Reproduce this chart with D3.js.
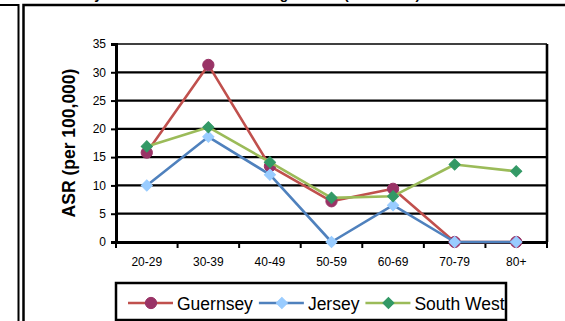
<!DOCTYPE html>
<html>
<head>
<meta charset="utf-8">
<script src="https://cdn.jsdelivr.net/npm/d3@7"></script>
<style>
  body { margin: 0; background: #fff; }
  svg { display: block; font-family: Arial, "Liberation Sans", sans-serif; }
</style>
</head>
<body>
<svg width="565" height="321"></svg>
<script>
const ageGroups = ['20-29', '30-39', '40-49', '50-59', '60-69', '70-79', '80+'];
const guernsey = [15.8, 31.3, 13.4, 7.2, 9.4, 0, 0];
const jersey = [10.0, 18.6, 11.9, 0, 6.5, 0, 0];
const southWest = [16.9, 20.3, 14.1, 7.8, 8.1, 13.7, 12.5];
const yTicks = [0, 5, 10, 15, 20, 25, 30, 35];

const series = [
  { name: 'Guernsey', values: guernsey, line: '#c0504d', fill: '#993366', shape: 'circle' },
  { name: 'Jersey', values: jersey, line: '#4f81bd', fill: '#99ccff', shape: 'diamond' },
  { name: 'South West', values: southWest, line: '#9bbb59', fill: '#339966', shape: 'diamond' }
];

const svg = d3.select('svg');

// outer frames (chart sits in a bordered box, part of previous one visible on the left)
svg.append('path')
  .attr('d', 'M0,5H18.5V321')
  .attr('fill', 'none').attr('stroke', '#000').attr('stroke-width', 2);
svg.append('path')
  .attr('d', 'M23.5,321V5H565')
  .attr('fill', 'none').attr('stroke', '#000').attr('stroke-width', 2.5);

// title is cut off by the top edge, only descenders show
const title = svg.append('text')
  .attr('y', -1.5)
  .attr('font-size', 14).attr('font-weight', 'bold');
title.append('tspan').attr('x', 102).attr('text-anchor', 'end').text('Incidence by');
title.append('tspan').attr('x', 296).attr('text-anchor', 'end').text('Rates for Selected Age');
title.append('tspan').attr('x', 344).attr('text-anchor', 'start').text('(1995-2009)');

//margin conventions
const margin = { top: 44, left: 116, right: 18, bottom: 79 };
const w = 565 - margin.left - margin.right;
const h = 321 - margin.top - margin.bottom;

const g = svg.append('g')
  .attr('transform', `translate(${margin.left},${margin.top})`);

const x = d3.scaleBand().domain(ageGroups).range([0, w]).padding(0);
const y = d3.scaleLinear().domain([0, 35]).range([h, 0]);

// gridlines
g.append('g')
  .selectAll('line')
  .data(yTicks.filter(d => d > 0))
  .join('line')
  .attr('x1', 0).attr('x2', w)
  .attr('y1', d => y(d)).attr('y2', d => y(d))
  .attr('stroke', '#000')
  .attr('stroke-width', d => d === 35 ? 1.6 : 2.2);

// right border of the plot area
g.append('line')
  .attr('x1', w).attr('x2', w).attr('y1', 0).attr('y2', h)
  .attr('stroke', '#000').attr('stroke-width', 2.6);

// y axis
const yAxis = g.append('g')
  .call(d3.axisLeft(y).tickValues(yTicks).tickSize(5).tickPadding(5));
yAxis.select('.domain').attr('stroke-width', 3);
yAxis.selectAll('.tick line').attr('stroke-width', 2);
yAxis.selectAll('text').attr('font-size', 12).attr('fill', '#000').attr('font-family', 'Arial, "Liberation Sans", sans-serif');

// x axis, ticks between categories
const xAxis = g.append('g')
  .attr('transform', `translate(0,${h})`)
  .call(d3.axisBottom(x).tickSize(0).tickPadding(15));
xAxis.select('.domain').attr('stroke-width', 3);
xAxis.selectAll('text').attr('font-size', 12).attr('fill', '#000').attr('font-family', 'Arial, "Liberation Sans", sans-serif');
xAxis.append('g')
  .selectAll('line')
  .data(ageGroups.map(d => x(d)).concat([w]))
  .join('line')
  .attr('x1', d => d).attr('x2', d => d)
  .attr('y1', 0).attr('y2', 6)
  .attr('stroke', '#000').attr('stroke-width', 2);

// axis title
g.append('text')
  .attr('transform', `translate(-41,${h / 2}) rotate(-90)`)
  .attr('text-anchor', 'middle')
  .attr('font-size', 17.5)
  .attr('font-weight', 'bold')
  .text('ASR (per 100,000)');

const cx = d => x(d) + x.bandwidth() / 2;
const line = d3.line().x((d, i) => cx(ageGroups[i])).y(d => y(d));

const circle = d3.symbol().type(d3.symbolCircle).size(100);
const diamond = d3.symbol().type(d3.symbolSquare).size(62);

function drawMarker(sel, s) {
  if (s.shape === 'circle') {
    sel.append('path').attr('d', circle());
  } else {
    sel.append('path').attr('d', diamond()).attr('transform', 'rotate(45)');
  }
  sel.select('path').attr('fill', s.fill).attr('stroke', s.fill).attr('stroke-width', 1);
}

series.forEach(s => {
  const sg = g.append('g');
  sg.append('path')
    .datum(s.values)
    .attr('d', line)
    .attr('fill', 'none')
    .attr('stroke', s.line)
    .attr('stroke-width', 2.6)
    .attr('stroke-linejoin', 'round');
  sg.selectAll('g.pt')
    .data(s.values)
    .join('g')
    .attr('class', 'pt')
    .attr('transform', (d, i) => `translate(${cx(ageGroups[i])},${y(d)})`)
    .each(function () { drawMarker(d3.select(this), s); });
});

// legend
const lx = 116, ly = 283, lw = 390, lh = 37;
svg.append('clipPath').attr('id', 'legclip')
  .append('rect').attr('x', lx).attr('y', ly).attr('width', lw).attr('height', lh);
const leg = svg.append('g').attr('clip-path', 'url(#legclip)');
let pos = lx + 12;
series.forEach(s => {
  const item = leg.append('g').attr('transform', `translate(${pos},${ly + 20})`);
  item.append('line')
    .attr('x1', 0).attr('x2', 45)
    .attr('stroke', s.line).attr('stroke-width', 2.6);
  const m = item.append('g').attr('transform', 'translate(23,0)');
  drawMarker(m, s);
  const t = item.append('text')
    .attr('x', 49).attr('y', 6.5)
    .attr('font-size', 17.5)
    .attr('fill', '#000')
    .text(s.name);
  pos += 49 + t.node().getComputedTextLength() + 6;
});
svg.append('rect')
  .attr('x', lx).attr('y', ly).attr('width', lw).attr('height', lh)
  .attr('fill', 'none').attr('stroke', '#000').attr('stroke-width', 2.5);
</script>
</body>
</html>
